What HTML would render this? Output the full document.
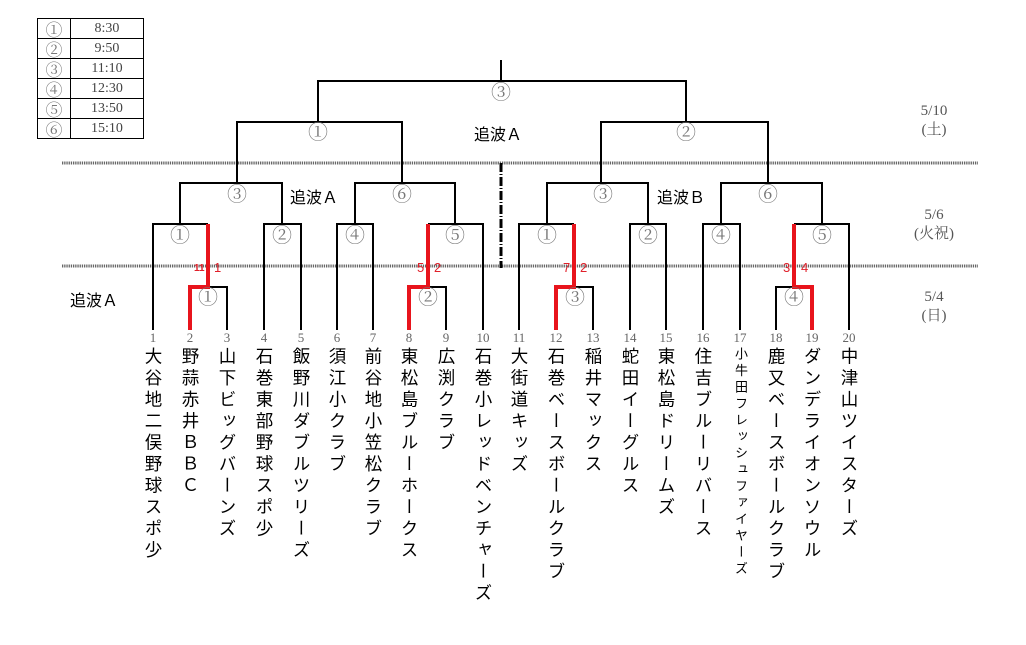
<!DOCTYPE html>
<html><head><meta charset="utf-8"><style>
body{margin:0;background:#fff;width:1026px;height:645px;overflow:hidden;position:relative;font-family:"Liberation Sans","Noto Sans CJK JP",sans-serif}
.n{position:absolute;top:347px;width:20px;writing-mode:vertical-rl;font-size:17.5px;letter-spacing:4px;color:#000;line-height:20px}
.num{position:absolute;top:330px;width:30px;text-align:center;font-family:"Liberation Serif","Noto Serif CJK SC",serif;font-size:13px;color:#666}
.d{position:absolute;width:80px;text-align:center;font-family:"Liberation Serif","Noto Serif CJK SC",serif;font-size:15px;color:#555;line-height:19px}
.c{position:absolute;font-size:20px;line-height:22px;height:22px;color:#777;font-family:"Noto Serif CJK SC",serif;width:24px;text-align:center}
.lb{position:absolute;font-size:16px;color:#000}
.r{position:absolute;font-size:13px;color:#e0202a}
table{position:absolute;left:37px;top:18px;border-collapse:collapse;font-family:"Liberation Serif","Noto Serif CJK SC",serif;font-size:14px;color:#444}
td{border:1px solid #000;height:19px;padding:0;line-height:19px}
td.k{font-size:17px;font-family:"Noto Serif CJK SC",serif;color:#777}
</style></head><body>
<table>
<tr><td class="k" style="width:32px;text-align:center">①</td><td style="width:72px;text-align:center">8:30</td></tr>
<tr><td class="k" style="text-align:center">②</td><td style="text-align:center">9:50</td></tr>
<tr><td class="k" style="text-align:center">③</td><td style="text-align:center">11:10</td></tr>
<tr><td class="k" style="text-align:center">④</td><td style="text-align:center">12:30</td></tr>
<tr><td class="k" style="text-align:center">⑤</td><td style="text-align:center">13:50</td></tr>
<tr><td class="k" style="text-align:center">⑥</td><td style="text-align:center">15:10</td></tr>
</table>
<svg width="1026" height="645" style="position:absolute;left:0;top:0">
<g stroke="#666" stroke-width="3" stroke-dasharray="1.3 0.9">
<line x1="62" y1="163" x2="978" y2="163"/><line x1="62" y1="266" x2="978" y2="266"/></g>
<line x1="501" y1="163" x2="501" y2="268" stroke="#000" stroke-width="3" stroke-dasharray="9 2 1 2"/>
<g fill="none" stroke="#000" stroke-width="2">
<path d="M501 60V81M318 122V81H686V122"/>
<path d="M237 183V122H402V183M601 183V122H768V183"/>
<path d="M180 224V183H282V224M355 224V183H455V224M547 224V183H648V224M721 224V183H822V224"/>
<path d="M153 330V224H208M264 330V224H301V330M337 330V224H373V330M428 224H483V330"/>
<path d="M519 330V224H574M630 330V224H666V330M703 330V224H740V330M794 224H849V330"/>
<path d="M208 287H227V330M428 287H446V330M574 287H593V330M776 330V287H794"/>
</g>
<g fill="none" stroke="#e8141c" stroke-width="4">
<path d="M190 330V287H208V224M409 330V287H428V224M556 330V287H574V224M812 330V287H794V224"/>
</g>
</svg>
<div class="c" style="left:489px;top:80px">③</div>
<div class="c" style="left:306px;top:120px">①</div>
<div class="c" style="left:674px;top:120px">②</div>
<div class="c" style="left:225px;top:182px">③</div>
<div class="c" style="left:390px;top:182px">⑥</div>
<div class="c" style="left:591px;top:182px">③</div>
<div class="c" style="left:756px;top:182px">⑥</div>
<div class="c" style="left:168px;top:223px">①</div>
<div class="c" style="left:270px;top:223px">②</div>
<div class="c" style="left:343px;top:223px">④</div>
<div class="c" style="left:443px;top:223px">⑤</div>
<div class="c" style="left:535px;top:223px">①</div>
<div class="c" style="left:636px;top:223px">②</div>
<div class="c" style="left:709px;top:223px">④</div>
<div class="c" style="left:810px;top:223px">⑤</div>
<div class="c" style="left:196px;top:285px">①</div>
<div class="c" style="left:416px;top:285px">②</div>
<div class="c" style="left:563px;top:285px">③</div>
<div class="c" style="left:782px;top:285px">④</div>
<div class="lb" style="left:474px;top:121px">追波Ａ</div>
<div class="lb" style="left:290px;top:184px">追波Ａ</div>
<div class="lb" style="left:657px;top:184px">追波Ｂ</div>
<div class="lb" style="left:70px;top:287px">追波Ａ</div>
<div class="r" style="left:194px;top:263px;font-size:10px;font-weight:bold">11</div><div class="r" style="left:214px;top:260px">1</div>
<div class="r" style="left:417px;top:260px">5</div><div class="r" style="left:434px;top:260px">2</div>
<div class="r" style="left:563px;top:260px">7</div><div class="r" style="left:580px;top:260px">2</div>
<div class="r" style="left:783px;top:260px">3</div><div class="r" style="left:801px;top:260px">4</div>
<div class="d" style="left:894px;top:102px">5/10<br>(土)</div>
<div class="d" style="left:894px;top:206px">5/6<br>(火祝)</div>
<div class="d" style="left:894px;top:288px">5/4<br>(日)</div>
<div class="num" style="left:138px">1</div><div class="num" style="left:175px">2</div><div class="num" style="left:212px">3</div><div class="num" style="left:249px">4</div><div class="num" style="left:286px">5</div><div class="num" style="left:322px">6</div><div class="num" style="left:358px">7</div><div class="num" style="left:394px">8</div><div class="num" style="left:431px">9</div><div class="num" style="left:468px">10</div>
<div class="num" style="left:504px">11</div><div class="num" style="left:541px">12</div><div class="num" style="left:578px">13</div><div class="num" style="left:615px">14</div><div class="num" style="left:651px">15</div><div class="num" style="left:688px">16</div><div class="num" style="left:725px">17</div><div class="num" style="left:761px">18</div><div class="num" style="left:797px">19</div><div class="num" style="left:834px">20</div>
<div class="n" style="left:143px">大谷地二俣野球スポ少</div>
<div class="n" style="left:180px">野蒜赤井ＢＢＣ</div>
<div class="n" style="left:217px">山下ビッグバーンズ</div>
<div class="n" style="left:254px">石巻東部野球スポ少</div>
<div class="n" style="left:291px">飯野川ダブルツリーズ</div>
<div class="n" style="left:327px">須江小クラブ</div>
<div class="n" style="left:363px">前谷地小笠松クラブ</div>
<div class="n" style="left:399px">東松島ブルーホークス</div>
<div class="n" style="left:436px">広渕クラブ</div>
<div class="n" style="left:473px">石巻小レッドベンチャーズ</div>
<div class="n" style="left:509px">大街道キッズ</div>
<div class="n" style="left:546px">石巻ベースボールクラブ</div>
<div class="n" style="left:583px">稲井マックス</div>
<div class="n" style="left:620px">蛇田イーグルス</div>
<div class="n" style="left:656px">東松島ドリームズ</div>
<div class="n" style="left:693px">住吉ブルーリバース</div>
<div class="n" style="left:732px;font-size:13px;letter-spacing:3.5px;width:16px;line-height:16px">小牛田フレッシュファイヤーズ</div>
<div class="n" style="left:766px">鹿又ベースボールクラブ</div>
<div class="n" style="left:802px">ダンデライオンソウル</div>
<div class="n" style="left:839px">中津山ツイスターズ</div>
</body></html>
